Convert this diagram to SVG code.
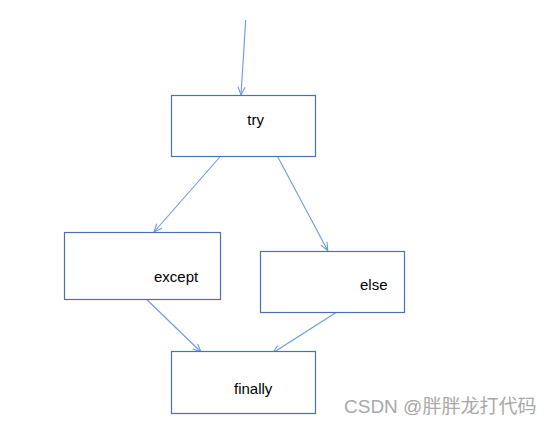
<svg xmlns="http://www.w3.org/2000/svg" width="549" height="425" viewBox="0 0 549 425">
<style>
.box{fill:#fff;stroke:#4a72b0;stroke-width:1.2}
.lbl{font-family:"Liberation Sans",Arial,sans-serif;font-size:15px;fill:#000}
.edge{stroke:#6a9be0;stroke-width:1.1;fill:none;marker-end:url(#ah)}
.wm{font-family:"Liberation Sans","Noto Sans CJK SC",sans-serif;font-size:19px;fill:#a8a8a8}
</style>
<defs>
<marker id="ah" markerWidth="10" markerHeight="10" refX="9" refY="5" orient="auto" markerUnits="userSpaceOnUse">
<path d="M1,1.5 L9,5 L1,8.5" fill="none" stroke="#6a9be0" stroke-width="1.1"/>
</marker>
</defs>
<rect width="549" height="425" fill="#fff"/>
<g id="connectors">
<line class="edge" x1="245.7" y1="20" x2="241" y2="95"/>
<line class="edge" x1="220.7" y1="156" x2="154" y2="232"/>
<line class="edge" x1="277.3" y1="156" x2="327.7" y2="250.5"/>
<line class="edge" x1="146.7" y1="299.5" x2="201" y2="352"/>
<line class="edge" x1="336" y1="312.5" x2="272.7" y2="353"/>
</g>
<g id="try">
<rect class="box" x="171.5" y="95.5" width="144" height="61"/>
<text class="lbl" x="247.3" y="125">try</text>
</g>
<g id="except">
<rect class="box" x="64.5" y="232.5" width="156" height="67"/>
<text class="lbl" x="154" y="282">except</text>
</g>
<g id="else">
<rect class="box" x="260.5" y="251.5" width="144" height="61"/>
<text class="lbl" x="360" y="290">else</text>
</g>
<g id="finally">
<rect class="box" x="171.5" y="351.5" width="144" height="62"/>
<text class="lbl" x="234" y="394">finally</text>
</g>
<text class="wm" x="344" y="413">CSDN @胖胖龙打代码</text>
</svg>
